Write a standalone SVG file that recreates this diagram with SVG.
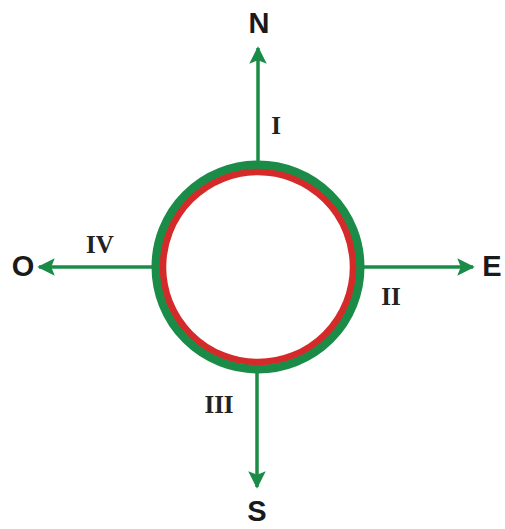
<svg xmlns="http://www.w3.org/2000/svg" width="505" height="529" viewBox="0 0 505 529">
<style>
.ax{stroke:#1b8c47;stroke-width:3.5;fill:none}
.cap{font-family:"Liberation Sans",Arial,sans-serif;font-weight:bold;font-size:29px;fill:#1a1a1a;text-anchor:middle}
.rom{font-family:"Liberation Serif","Times New Roman",serif;font-weight:bold;font-size:25px;fill:#222;text-anchor:middle}
</style>
<defs>
<marker id="ah" viewBox="0 0 10 10" refX="9" refY="5" markerWidth="5" markerHeight="5" orient="auto" markerUnits="strokeWidth">
<path d="M0,0 L10,5 L0,10 L2,5 Z" fill="#1b8c47"/>
</marker>
</defs>
<g id="connectors">
<line class="ax" x1="258" y1="161" x2="258" y2="48" marker-end="url(#ah)"/>
<line class="ax" x1="364" y1="267" x2="473" y2="267" marker-end="url(#ah)"/>
<line class="ax" x1="257" y1="373" x2="257" y2="487" marker-end="url(#ah)"/>
<line class="ax" x1="152" y1="267" x2="39" y2="267" marker-end="url(#ah)"/>
</g>
<g id="circle">
<circle cx="258" cy="267" r="102" fill="#fff" stroke="#1b8c47" stroke-width="9"/>
<circle cx="258" cy="267" r="95" fill="none" stroke="#d42a2a" stroke-width="6.5"/>
</g>
<g id="N"><text class="cap" x="259" y="33">N</text></g>
<g id="E"><text class="cap" x="492" y="276">E</text></g>
<g id="S"><text class="cap" x="257" y="521">S</text></g>
<g id="O"><text class="cap" x="23" y="276">O</text></g>
<g id="I"><text class="rom" x="276" y="134">I</text></g>
<g id="II"><text class="rom" x="391" y="305">II</text></g>
<g id="III"><text class="rom" x="219" y="413">III</text></g>
<g id="IV"><text class="rom" x="100" y="253">IV</text></g>
</svg>
